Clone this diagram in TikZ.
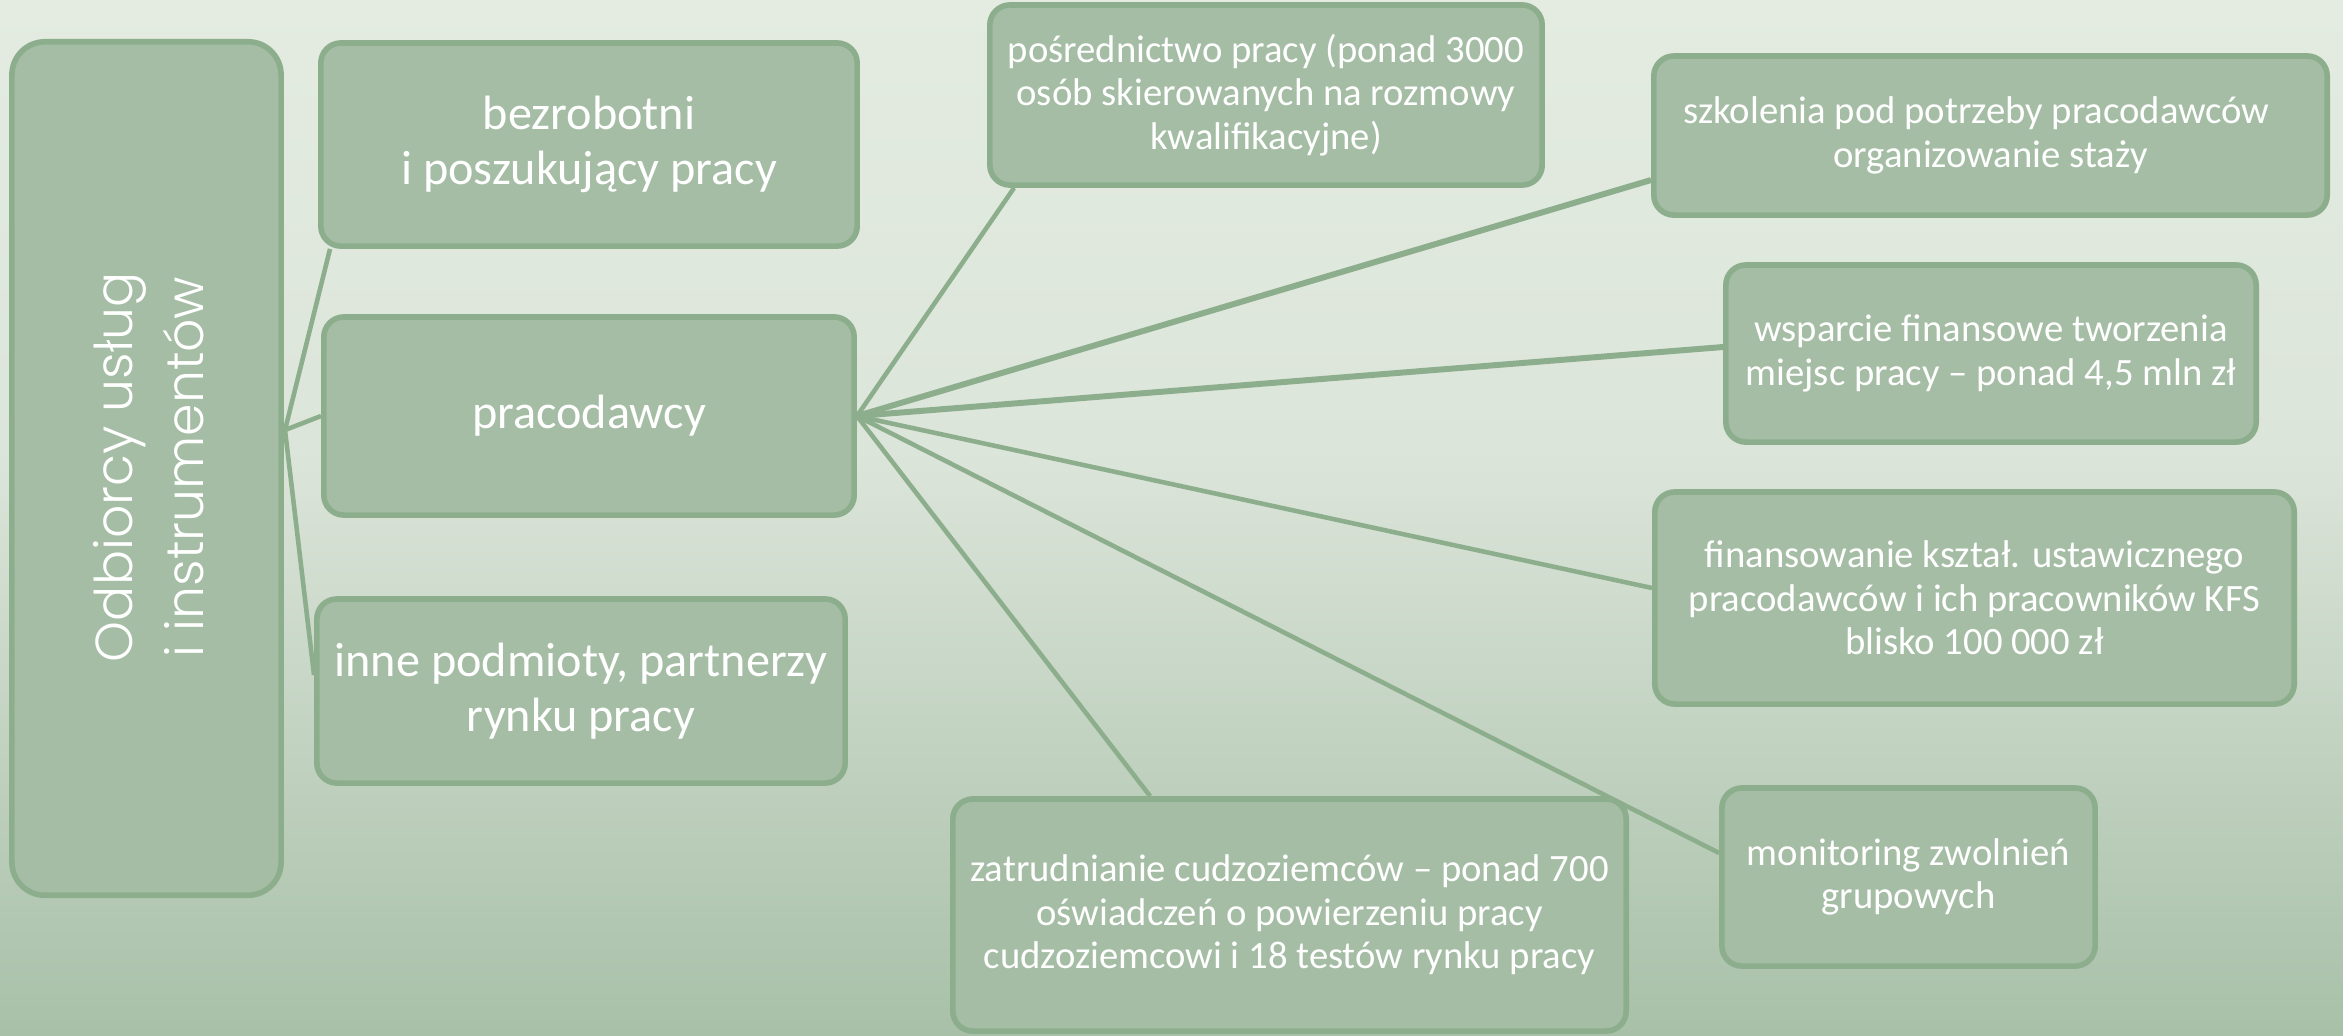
\documentclass[tikz,border=0pt]{standalone}
\usepackage{fontspec}
\setmainfont{Carlito}
\newfontfamily\gothic[UprightFont={* Light}]{Poppins}
\definecolor{bgtop}{HTML}{E4ECE2}
\definecolor{bgmid}{HTML}{DCE5DA}
\definecolor{bgbot}{HTML}{A8C0A8}
\definecolor{boxfill}{HTML}{A4BDA4}
\definecolor{boxline}{HTML}{8DAE8D}
\begin{document}
\begin{tikzpicture}[x=0.01cm,y=-0.01cm,
  gbox/.style={draw=boxline, fill=boxfill, line width=1.6pt, rounded corners=0.2cm,
    text=white, align=center, inner sep=0pt},
  big/.style={font=\fontsize{13.7}{15.6}\selectfont},
  small/.style={font=\fontsize{11}{12.4}\selectfont},
  conn/.style={draw=boxline, line width=1.3pt},
  thickconn/.style={draw=boxline, line width=1.7pt}]
\useasboundingbox (0,0) rectangle (2343,1035);
\shade[top color=bgtop, bottom color=bgmid] (0,0) rectangle (2343,450);
\shade[top color=bgmid, bottom color=bgbot] (0,449) rectangle (2343,1035);

% left column
\node[gbox, rounded corners=0.33cm, minimum width=2.69cm, minimum height=8.53cm] (L) at (146.5,468.5) {};
\node[rotate=90, text=white, align=center, inner sep=0pt,
  font=\gothic\fontsize{14.8}{20.2}\selectfont] (Lt) at (149,467) {Odbiorcy usług\\i instrumentów};

\node[gbox, big, minimum width=5.36cm, minimum height=2.03cm] (B) at (589,144.5) {bezrobotni\\i poszukujący pracy};
\node[gbox, big, minimum width=5.30cm, minimum height=1.98cm] (P) at (589,416) {pracodawcy};
\node[gbox, big, minimum width=5.28cm, minimum height=1.84cm] (I) at (581,691) {inne podmioty, partnerzy\\rynku pracy};

% right column
\node[gbox, small, minimum width=5.52cm, minimum height=1.80cm] (Po) at (1266,95) {pośrednictwo pracy (ponad 3000\\osób skierowanych na rozmowy\\kwalifikacyjne)};
\node[gbox, small, minimum width=6.73cm, minimum height=1.59cm] (S) at (1990.5,135.5) {szkolenia pod potrzeby pracodawców\hspace*{0.28cm}\\organizowanie staży};
\node[gbox, small, minimum width=5.30cm, minimum height=1.77cm] (W) at (1991,353.5) {wsparcie finansowe tworzenia\\miejsc pracy – ponad 4,5 mln zł};
\node[gbox, small, minimum width=6.39cm, minimum height=2.12cm] (F) at (1974.5,598) {finansowanie kształ. ustawicznego\\pracodawców i ich pracowników KFS\\blisko 100 000 zł};
\node[gbox, small, minimum width=3.73cm, minimum height=1.78cm] (M) at (1908.5,877) {monitoring zwolnień\\grupowych};
\node[gbox, small, minimum width=6.73cm, minimum height=2.32cm] (Z) at (1289.5,915) {zatrudnianie cudzoziemców – ponad 700\\oświadczeń o powierzeniu pracy\\cudzoziemcowi i 18 testów rynku pracy};

% connectors
\coordinate (J1) at (285,430);
\coordinate (J2) at (P.east);
\draw[conn] (J1) -- ([xshift=0.12cm]B.south west);
\draw[conn] (J1) -- (P.west);
\draw[conn] (J1) -- ([yshift=0.16cm]I.west);
\draw[conn] (J2) -- ([xshift=0.27cm]Po.south west);
\draw[thickconn] (J2) -- ([yshift=-0.445cm]S.west);
\draw[thickconn] (J2) -- ([yshift=0.065cm]W.west);
\draw[conn] (J2) -- ([yshift=0.10cm]F.west);
\draw[conn] (J2) -- ([yshift=0.24cm]M.west);
\draw[conn] (J2) -- ([xshift=2.0cm]Z.north west);
\end{tikzpicture}
\end{document}
